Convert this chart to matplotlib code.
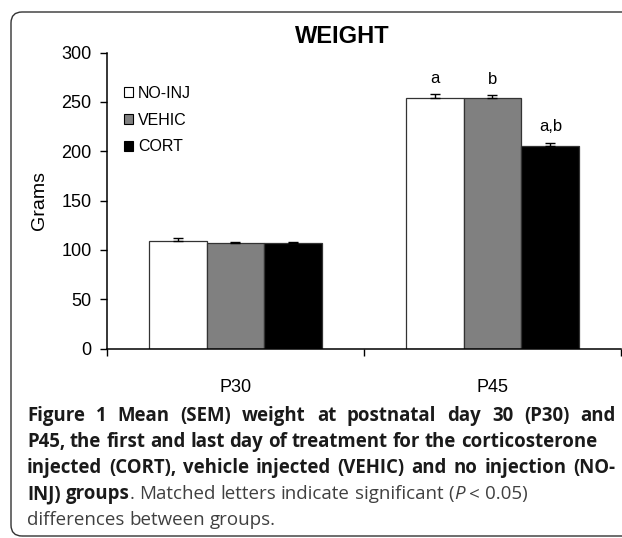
import matplotlib
matplotlib.use('Agg')
import matplotlib.pyplot as plt
import numpy as np
from matplotlib.patches import Patch, FancyBboxPatch
from matplotlib.transforms import IdentityTransform

plt.rcParams['font.family'] = ['Liberation Sans', 'DejaVu Sans']

# weight data (grams), mean and SEM per group
days = ['P30', 'P45']
groups = ['NO-INJ', 'VEHIC', 'CORT']
colors = ['white', '#808080', 'black']
no_inj = [108.5, 254]
vehic = [106.5, 253.5]
cort = [106.5, 205]
no_inj_sem = [3, 4]
vehic_sem = [1.5, 3]
cort_sem = [1.5, 3.5]
sig_letters = {('NO-INJ', 1): 'a', ('VEHIC', 1): 'b', ('CORT', 1): 'a,b'}

W, H = 622, 538
fig = plt.figure(figsize=(W / 100, H / 100), dpi=100)

# rounded frame around figure + caption
frame = FancyBboxPatch((11, 2), 650, H - 14, boxstyle='round,pad=0,rounding_size=11',
                       transform=IdentityTransform(), facecolor='none',
                       edgecolor='#333333', linewidth=1.0)
fig.patches.append(frame)

ax = fig.add_axes([107 / W, 1 - 348.5 / H, 514 / W, 296 / H])

x = np.arange(len(days))
bw = 0.225
means = [no_inj, vehic, cort]
sems = [no_inj_sem, vehic_sem, cort_sem]
for i, (g, c, m, s) in enumerate(zip(groups, colors, means, sems)):
    pos = x + (i - 1) * bw
    ax.bar(pos, m, width=bw, color=c, edgecolor='#333333', linewidth=0.9, zorder=2)
    ax.errorbar(pos, m, yerr=[np.zeros(len(m)), s], fmt='none', ecolor='black',
                elinewidth=1, capsize=3.5, capthick=1, zorder=3)
    for j in range(len(days)):
        lab = sig_letters.get((g, j))
        if lab:
            ax.annotate(lab, (pos[j], m[j] + s[j]), xytext=(0, 6),
                        textcoords='offset points', ha='center', va='bottom',
                        fontsize=12)

ax.set_xlim(-0.5, 1.5)
ax.set_ylim(0, 300)
ax.set_yticks(range(0, 301, 50))
ax.set_xticks(x)
ax.set_xticklabels(days)
ax.set_xticks([-0.5, 0.5, 1.5], minor=True)
ax.tick_params(axis='x', which='major', length=0, pad=22, labelsize=13)
ax.tick_params(axis='x', which='minor', length=5, width=1, direction='out')
ax.tick_params(axis='y', length=5, width=1, direction='out', pad=6, labelsize=13)
for side in ['top', 'right']:
    ax.spines[side].set_visible(False)
for side in ['left', 'bottom']:
    ax.spines[side].set_linewidth(1.1)
ax.set_ylabel('Grams', fontsize=14, labelpad=10)

handles = [Patch(facecolor=c, edgecolor='black', linewidth=0.8) for c in colors]
ax.legend(handles, groups, loc='upper left', bbox_to_anchor=(0.02, 0.91),
          frameon=False, fontsize=11.5, handlelength=0.6, handleheight=0.6,
          handletextpad=0.3, labelspacing=0.75, borderaxespad=0)

fig.text(342 / W, 1 - 37 / H, 'WEIGHT', ha='center', va='center',
         fontsize=17, fontweight='bold')

# caption, placed word by word so some lines can be justified
caption_lines = [
    [('Figure 1 Mean (SEM) weight at postnatal day 30 (P30) and', 'bold', 'normal')],
    [('P45, the first and last day of treatment for the corticosterone', 'bold', 'normal')],
    [('injected (CORT), vehicle injected (VEHIC) and no injection (NO-', 'bold', 'normal')],
    [('INJ) groups', 'bold', 'normal'),
     ('. Matched letters indicate significant (', 'normal', 'normal'),
     ('P', 'normal', 'italic'),
     (' < 0.05)', 'normal', 'normal')],
    [('differences between groups.', 'normal', 'normal')],
]
line_ends = [616, 595, 615, None, None]

r = fig.canvas.get_renderer()


def cap_kw(weight, style):
    if weight == 'bold':
        return dict(family='Open Sans', fontsize=13.4, fontweight='bold',
                    fontstyle=style, color='#1a1a1a')
    return dict(family='Open Sans', fontsize=13.5, fontweight='normal',
                fontstyle=style, color='#404040')


def text_width(s, kw):
    t = fig.text(0, 0, s, **kw)
    w = t.get_window_extent(r).width
    t.remove()
    return w


x0 = 27
base = 421
for k, (parts, end) in enumerate(zip(caption_lines, line_ends)):
    tokens = []
    gap_next = False
    for txt, wgt, sty in parts:
        for i, piece in enumerate(txt.split(' ')):
            if i > 0:
                gap_next = True
            if piece:
                tokens.append((piece, wgt, sty, gap_next and len(tokens) > 0))
                gap_next = False
    widths = [text_width(t[0], cap_kw(t[1], t[2])) for t in tokens]
    gaps = [(text_width('x x', cap_kw(t[1], t[2])) - text_width('xx', cap_kw(t[1], t[2])))
            if t[3] else 0 for t in tokens]
    extra = 0
    n_gaps = sum(1 for t in tokens if t[3])
    if end is not None and n_gaps:
        extra = max(0, (end - x0 - sum(widths) - sum(gaps)) / n_gaps)
    xp = x0
    y = base + 26 * k
    for (piece, wgt, sty, sp), w, g in zip(tokens, widths, gaps):
        if sp:
            xp += g + extra
        fig.text(xp / W, 1 - y / H, piece, ha='left', va='baseline', **cap_kw(wgt, sty))
        xp += w

fig.savefig('out.png', dpi=100)
